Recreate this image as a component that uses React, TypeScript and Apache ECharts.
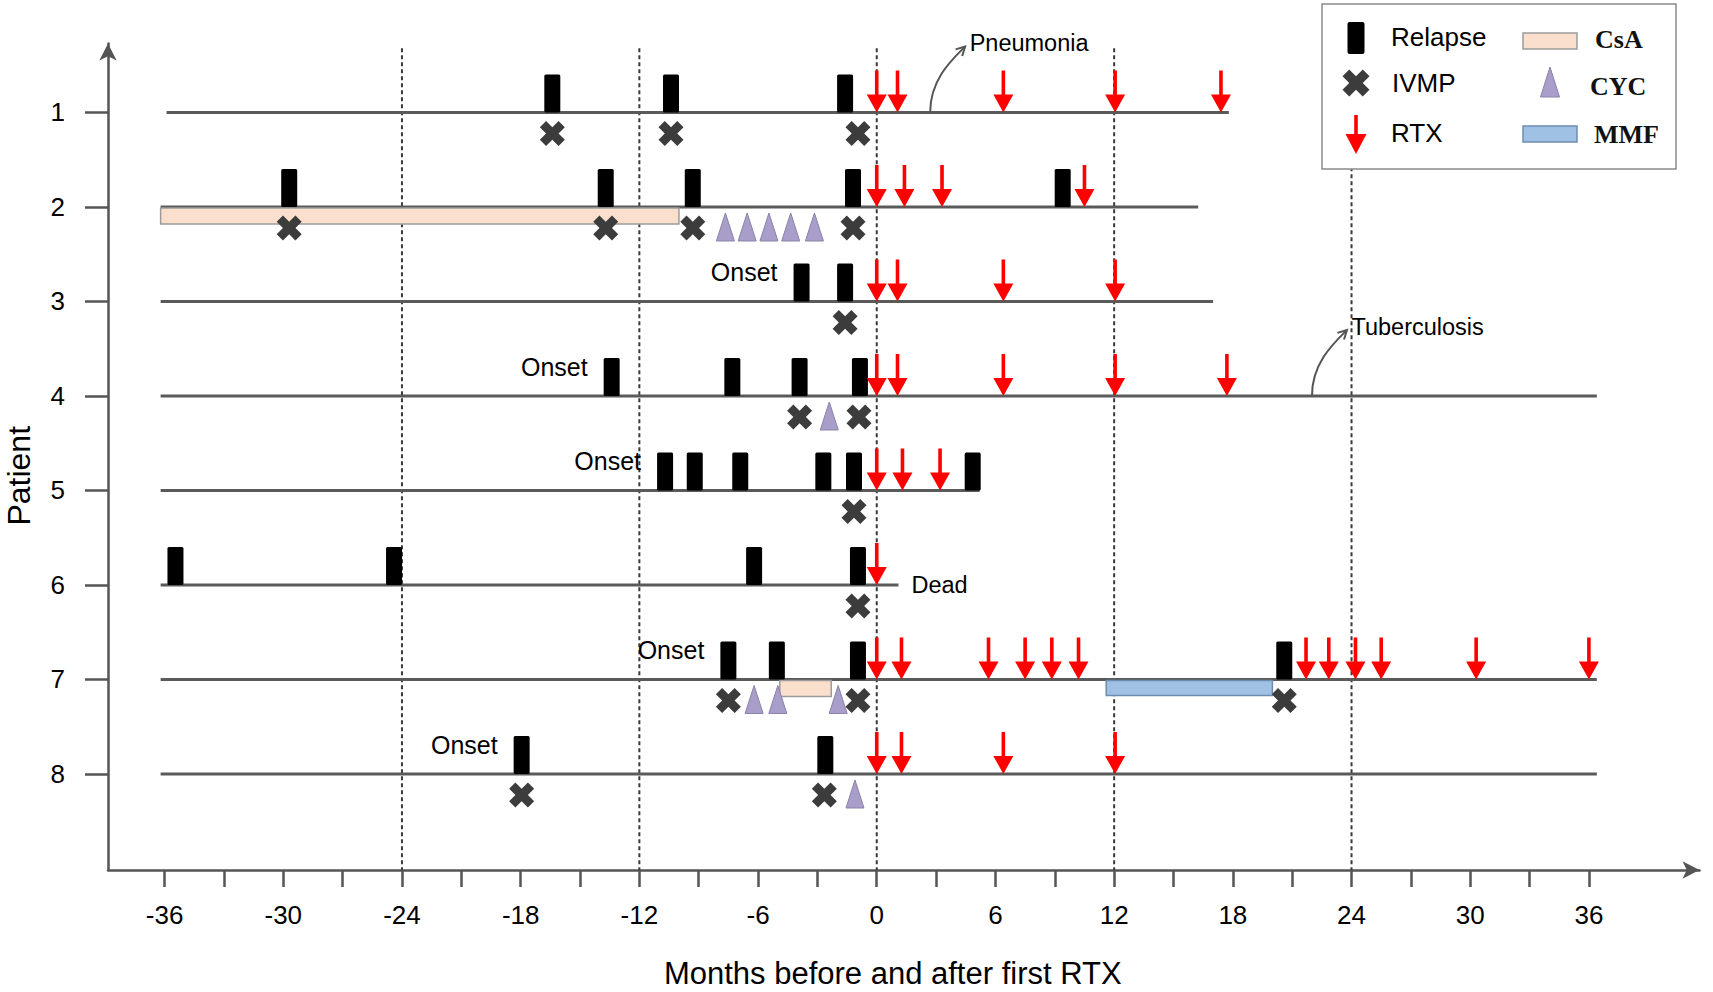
import { useEffect, useRef } from 'react';
import * as echarts from 'echarts';

// ---------------- data ----------------
const patients = [1, 2, 3, 4, 5, 6, 7, 8];
const followStart = [-35.9, -36.2, -36.2, -36.2, -36.2, -36.2, -36.2, -36.2];
const followEnd = [17.8, 16.25, 17.0, 36.4, 5.2, 1.1, 36.4, 36.4];

const relapseMonths: number[][] = [
  [-16.4, -10.4, -1.6],
  [-29.7, -13.7, -9.3, -1.2, 9.4],
  [-3.8, -1.6],
  [-13.4, -7.3, -3.9, -0.85],
  [-10.7, -9.2, -6.9, -2.7, -1.15, 4.85],
  [-35.45, -24.4, -6.2, -0.95],
  [-7.5, -5.05, -0.95, 20.6],
  [-17.95, -2.6],
];
const ivmpMonths: number[][] = [
  [-16.4, -10.4, -0.95],
  [-29.7, -13.7, -9.3, -1.2],
  [-1.6],
  [-3.9, -0.9],
  [-1.15],
  [-0.95],
  [-7.5, -0.95, 20.6],
  [-17.95, -2.65],
];
const rtxMonths: number[][] = [
  [0, 1.05, 6.4, 12.05, 17.4],
  [0, 1.4, 3.3, 10.5],
  [0, 1.05, 6.4, 12.05],
  [0, 1.05, 6.4, 12.05, 17.7],
  [0, 1.3, 3.2],
  [0],
  [0, 1.25, 5.65, 7.5, 8.85, 10.2, 21.7, 22.85, 24.2, 25.5, 30.3, 36.0],
  [0, 1.25, 6.4, 12.05],
];
const cycMonths: number[][] = [
  [],
  [-7.65, -6.55, -5.45, -4.35, -3.15],
  [],
  [-2.4],
  [],
  [],
  [-6.2, -5.0, -1.95],
  [-1.1],
];
const csaPatients = [2, 7];
const csaFrom = [-36.2, -4.9];
const csaTo = [-10.0, -2.3];
const mmfPatients = [7];
const mmfFrom = [11.6];
const mmfTo = [20.0];
const onsetPatients = [3, 4, 5, 7, 8];
const onsetMonths = [-3.8, -13.4, -10.7, -7.5, -17.95];
const deathPatients = [6];
const deathMonths = [1.1];
const infectionNames = ['Pneumonia', 'Tuberculosis'];
const infectionPatients = [1, 4];
const infectionMonths = [2.7, 22.0];

const xTickValues = [-36, -33, -30, -27, -24, -21, -18, -15, -12, -9, -6, -3, 0, 3, 6, 9, 12, 15, 18, 21, 24, 27, 30, 33, 36];
const xLabelValues = [-36, -30, -24, -18, -12, -6, 0, 6, 12, 18, 24, 30, 36];
const yLabelValues = [1, 2, 3, 4, 5, 6, 7, 8];
const refLineMonths = [-24, -12, 0, 12, 24];

// ---------------- layout / style constants ----------------
const X_MIN = -38.86;
const X_MAX = 41.59;
const Y_MIN = 0.27;
const Y_MAX = 9.016;
const REF_TOP = 0.32;

const SANS = '"Liberation Sans", Arial, sans-serif';
const SERIF = '"Liberation Serif", "Times New Roman", serif';
const AXIS_COLOR = '#555555';
const CSA_FILL = '#FAE0CC';
const CSA_STROKE = '#9c9c9c';
const MMF_FILL = '#9FC2E4';
const MMF_STROKE = '#6E8DAE';
const CYC_FILL = '#A99DCA';
const CYC_STROKE = '#8A82A8';
const CROSS_COLOR = '#3C3C3C';
const RTX_COLOR = '#FF0000';

const flat = (arr: number[][]) => patients.flatMap((p, i) => arr[i].map((m) => [m, p]));

function crossPoints(cx: number, cy: number, a: number) {
  const k = a * 0.5;
  const pts = [
    [-a, -a + k], [-a + k, -a], [0, -k], [a - k, -a], [a, -a + k], [k, 0],
    [a, a - k], [a - k, a], [0, k], [-a + k, a], [-a, a - k], [-k, 0],
  ];
  return pts.map(([x, y]) => [cx + x, cy + y]);
}

function arrowPoints(cx: number, tipY: number, h: number, headH: number, headW: number) {
  const s = 1.8;
  return [
    [cx - s, tipY - h], [cx + s, tipY - h], [cx + s, tipY - headH], [cx + headW, tipY - headH],
    [cx, tipY], [cx - headW, tipY - headH], [cx - s, tipY - headH],
  ];
}

const ENC = { x: 0, y: 1 };

const option: any = {
  animation: false,
  backgroundColor: '#ffffff',
  grid: { left: 108, right: 13.5, top: 43.5, bottom: 122, containLabel: false, outerBoundsMode: 'none' },
  xAxis: {
    type: 'value',
    min: X_MIN,
    max: X_MAX,
    name: 'Months before and after first RTX',
    nameLocation: 'middle',
    nameGap: 88,
    nameTextStyle: { fontSize: 31, fontFamily: SANS, color: '#000', padding: [0, 22, 0, 0] },
    axisLine: {
      show: true, onZero: false, symbol: ['none', 'arrow'], symbolSize: [13, 17],
      lineStyle: { color: AXIS_COLOR, width: 2.5 },
    },
    axisTick: { show: true, customValues: xTickValues, length: 17, lineStyle: { color: AXIS_COLOR, width: 2.5 } },
    axisLabel: { customValues: xLabelValues, margin: 32, fontSize: 26, fontFamily: SANS, color: '#000' },
    splitLine: { show: false },
  },
  yAxis: {
    type: 'value',
    inverse: true,
    min: Y_MIN,
    max: Y_MAX,
    name: 'Patient',
    nameLocation: 'middle',
    nameRotate: 90,
    nameGap: 73,
    nameTextStyle: { fontSize: 32, fontFamily: SANS, color: '#000', padding: [0, 38, 0, 0] },
    axisLine: {
      show: true, onZero: false, symbol: ['none', 'arrow'], symbolSize: [13, 17],
      lineStyle: { color: AXIS_COLOR, width: 2.5 },
    },
    axisTick: { show: true, customValues: yLabelValues, length: 23, lineStyle: { color: AXIS_COLOR, width: 2.5 } },
    axisLabel: { customValues: yLabelValues, margin: 43, fontSize: 26, fontFamily: SANS, color: '#000' },
    splitLine: { show: false },
  },
  series: [
    {
      name: 'Reference lines',
      type: 'custom',
      encode: ENC,
      data: refLineMonths.map((m) => [m, Y_MAX]),
      renderItem: (params: any, api: any) => {
        const a = api.coord([api.value(0), REF_TOP]);
        const b = api.coord([api.value(0), Y_MAX]);
        return {
          type: 'line',
          shape: { x1: a[0], y1: a[1], x2: b[0], y2: b[1] },
          style: { stroke: '#3a3a3a', lineWidth: 2, lineDash: [4, 3] },
        };
      },
    },
    {
      name: 'Follow-up',
      type: 'custom',
      encode: { x: [0, 2], y: 1 },
      data: patients.map((p, i) => [followStart[i], p, followEnd[i]]),
      renderItem: (params: any, api: any) => {
        const a = api.coord([api.value(0), api.value(1)]);
        const b = api.coord([api.value(2), api.value(1)]);
        return {
          type: 'line',
          shape: { x1: a[0], y1: a[1], x2: b[0], y2: b[1] },
          style: { stroke: '#5a5a5a', lineWidth: 3 },
        };
      },
    },
    {
      name: 'CsA',
      type: 'custom',
      encode: { x: [0, 2], y: 1 },
      data: csaPatients.map((p, i) => [csaFrom[i], p, csaTo[i]]),
      renderItem: (params: any, api: any) => {
        const a = api.coord([api.value(0), api.value(1)]);
        const b = api.coord([api.value(2), api.value(1)]);
        return {
          type: 'rect',
          shape: { x: a[0], y: a[1] + 1, width: b[0] - a[0], height: 16 },
          style: { fill: CSA_FILL, stroke: CSA_STROKE, lineWidth: 1.5 },
        };
      },
    },
    {
      name: 'MMF',
      type: 'custom',
      encode: { x: [0, 2], y: 1 },
      data: mmfPatients.map((p, i) => [mmfFrom[i], p, mmfTo[i]]),
      renderItem: (params: any, api: any) => {
        const a = api.coord([api.value(0), api.value(1)]);
        const b = api.coord([api.value(2), api.value(1)]);
        return {
          type: 'rect',
          shape: { x: a[0], y: a[1] + 1, width: b[0] - a[0], height: 15 },
          style: { fill: MMF_FILL, stroke: MMF_STROKE, lineWidth: 1.5 },
        };
      },
    },
    {
      name: 'Relapse',
      type: 'custom',
      encode: ENC,
      data: flat(relapseMonths),
      renderItem: (params: any, api: any) => {
        const p = api.coord([api.value(0), api.value(1)]);
        return {
          type: 'rect',
          shape: { x: p[0] - 8, y: p[1] - 38, width: 16, height: 38, r: 1.5 },
          style: { fill: '#000' },
        };
      },
    },
    {
      name: 'IVMP',
      type: 'custom',
      encode: ENC,
      data: flat(ivmpMonths),
      renderItem: (params: any, api: any) => {
        const p = api.coord([api.value(0), api.value(1)]);
        return {
          type: 'polygon',
          shape: { points: crossPoints(p[0], p[1] + 21, 12.5) },
          style: { fill: CROSS_COLOR },
        };
      },
    },
    {
      name: 'CYC',
      type: 'custom',
      encode: ENC,
      data: flat(cycMonths),
      renderItem: (params: any, api: any) => {
        const p = api.coord([api.value(0), api.value(1)]);
        return {
          type: 'polygon',
          shape: { points: [[p[0], p[1] + 6], [p[0] + 9, p[1] + 34], [p[0] - 9, p[1] + 34]] },
          style: { fill: CYC_FILL, stroke: CYC_STROKE, lineWidth: 1 },
        };
      },
    },
    {
      name: 'RTX',
      type: 'custom',
      encode: ENC,
      data: flat(rtxMonths),
      renderItem: (params: any, api: any) => {
        const p = api.coord([api.value(0), api.value(1)]);
        return {
          type: 'polygon',
          shape: { points: arrowPoints(p[0], p[1], 42, 18, 10) },
          style: { fill: RTX_COLOR },
        };
      },
    },
    {
      name: 'Onset',
      type: 'custom',
      encode: ENC,
      data: onsetPatients.map((p, i) => [onsetMonths[i], p]),
      renderItem: (params: any, api: any) => {
        const p = api.coord([api.value(0), api.value(1)]);
        return {
          type: 'text',
          x: p[0] - 24,
          y: p[1] - 29,
          style: { text: 'Onset', fontSize: 25, fontFamily: SANS, fill: '#000', align: 'right', verticalAlign: 'middle' },
        };
      },
    },
    {
      name: 'Dead',
      type: 'custom',
      encode: ENC,
      data: deathPatients.map((p, i) => [deathMonths[i], p]),
      renderItem: (params: any, api: any) => {
        const p = api.coord([api.value(0), api.value(1)]);
        return {
          type: 'text',
          x: p[0] + 13,
          y: p[1],
          style: { text: 'Dead', fontSize: 23.5, fontFamily: SANS, fill: '#000', align: 'left', verticalAlign: 'middle' },
        };
      },
    },
    {
      name: 'Infection',
      type: 'custom',
      encode: ENC,
      data: infectionPatients.map((p, i) => [infectionMonths[i], p, i]),
      renderItem: (params: any, api: any) => {
        const s = api.coord([api.value(0), api.value(1)]);
        const W = 35;
        const H = 66;
        const tip = [s[0] + W, s[1] - H];
        const cp1 = [s[0], s[1] - 0.5 * H];
        const cp2 = [s[0] + 0.62 * W, tip[1] + 0.2 * H];
        let dx = tip[0] - cp2[0];
        let dy = tip[1] - cp2[1];
        const len = Math.sqrt(dx * dx + dy * dy) || 1;
        dx /= len;
        dy /= len;
        const ang = (28 * Math.PI) / 180;
        const L = 10;
        const rot = (x: number, y: number, t: number) => [x * Math.cos(t) - y * Math.sin(t), x * Math.sin(t) + y * Math.cos(t)];
        const w1 = rot(-dx, -dy, ang);
        const w2 = rot(-dx, -dy, -ang);
        const name = infectionNames[api.value(2)];
        return {
          type: 'group',
          children: [
            {
              type: 'bezierCurve',
              shape: { x1: s[0], y1: s[1], x2: tip[0], y2: tip[1], cpx1: cp1[0], cpy1: cp1[1], cpx2: cp2[0], cpy2: cp2[1] },
              style: { stroke: '#555', lineWidth: 2, fill: 'none' },
            },
            {
              type: 'polyline',
              shape: { points: [[tip[0] + w1[0] * L, tip[1] + w1[1] * L], tip, [tip[0] + w2[0] * L, tip[1] + w2[1] * L]] },
              style: { stroke: '#555', lineWidth: 2, fill: 'none' },
            },
            {
              type: 'text',
              x: tip[0] + 4.5,
              y: tip[1] - 3,
              style: { text: name, fontSize: 23.5, fontFamily: SANS, fill: '#000', align: 'left', verticalAlign: 'middle' },
            },
          ],
        };
      },
    },
  ],
  graphic: {
    elements: [
      { type: 'rect', z: 100, shape: { x: 1322, y: 4, width: 354, height: 165 }, style: { fill: '#fff', stroke: '#8a8a8a', lineWidth: 1.5 } },
      { type: 'rect', z: 101, shape: { x: 1347.5, y: 22, width: 17, height: 32, r: 2 }, style: { fill: '#000' } },
      { type: 'text', z: 101, x: 1391, y: 37, style: { text: 'Relapse', fontSize: 26, fontFamily: SANS, fill: '#000', align: 'left', verticalAlign: 'middle' } },
      { type: 'polygon', z: 101, shape: { points: crossPoints(1356, 83, 13.5) }, style: { fill: CROSS_COLOR } },
      { type: 'text', z: 101, x: 1392, y: 83, style: { text: 'IVMP', fontSize: 26, fontFamily: SANS, fill: '#000', align: 'left', verticalAlign: 'middle' } },
      { type: 'polygon', z: 101, shape: { points: arrowPoints(1356, 154, 39, 20, 10.5) }, style: { fill: RTX_COLOR } },
      { type: 'text', z: 101, x: 1391, y: 133, style: { text: 'RTX', fontSize: 26, fontFamily: SANS, fill: '#000', align: 'left', verticalAlign: 'middle' } },
      { type: 'rect', z: 101, shape: { x: 1523, y: 33, width: 54, height: 16 }, style: { fill: CSA_FILL, stroke: CSA_STROKE, lineWidth: 1.5 } },
      { type: 'text', z: 101, x: 1595, y: 39, style: { text: 'CsA', fontSize: 26, fontWeight: 'bold', fontFamily: SERIF, fill: '#111', align: 'left', verticalAlign: 'middle' } },
      { type: 'polygon', z: 101, shape: { points: [[1550, 67], [1559.5, 97], [1540.5, 97]] }, style: { fill: CYC_FILL, stroke: CYC_STROKE, lineWidth: 1 } },
      { type: 'text', z: 101, x: 1590, y: 86, style: { text: 'CYC', fontSize: 26, fontWeight: 'bold', fontFamily: SERIF, fill: '#111', align: 'left', verticalAlign: 'middle' } },
      { type: 'rect', z: 101, shape: { x: 1523, y: 126, width: 54, height: 16 }, style: { fill: MMF_FILL, stroke: MMF_STROKE, lineWidth: 1.5 } },
      { type: 'text', z: 101, x: 1594, y: 134, style: { text: 'MMF', fontSize: 26, fontWeight: 'bold', fontFamily: SERIF, fill: '#111', align: 'left', verticalAlign: 'middle' } },
    ],
  },
};

export default function App() {
  const ref = useRef<HTMLDivElement>(null);
  useEffect(() => {
    if (!ref.current) return;
    const chart = echarts.init(ref.current, null, { renderer: 'svg' });
    chart.setOption(option);
    return () => chart.dispose();
  }, []);
  return (
    <div
      ref={ref}
      style={{ position: 'fixed', left: 0, top: 0, width: '1713px', height: '992px', background: '#fff' }}
    />
  );
}
